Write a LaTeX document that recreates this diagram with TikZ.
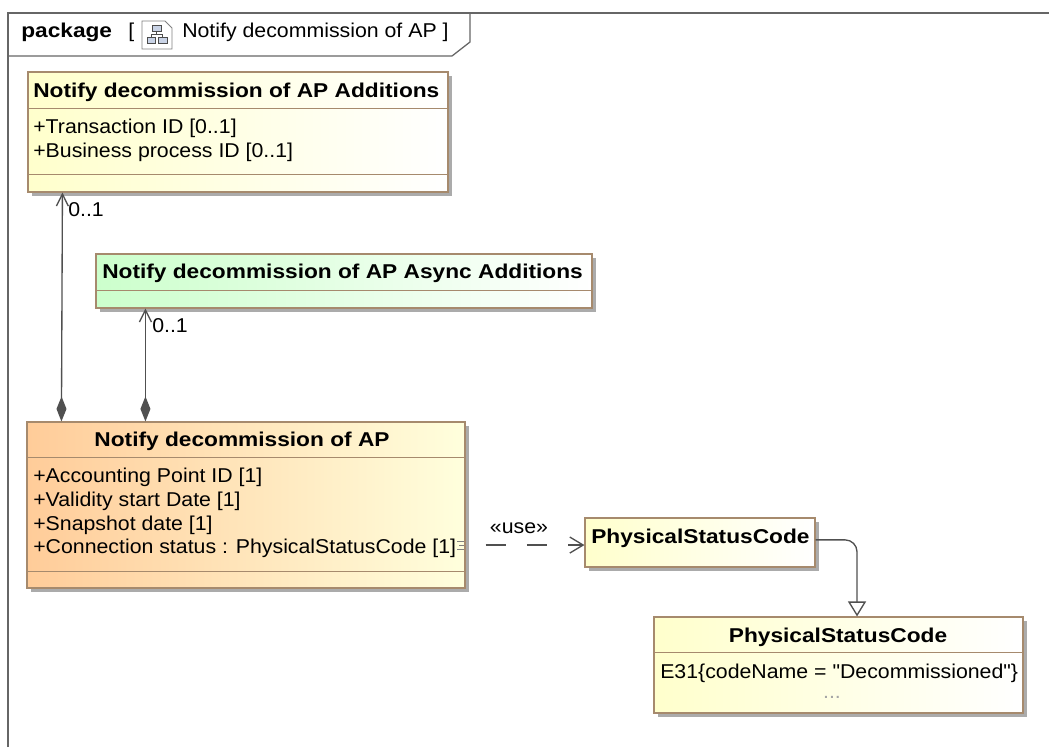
\documentclass[tikz,border=0pt]{standalone}
\usepackage{fontspec}
\setmainfont{Liberation Sans}
\newfontface\regface[FakeStretch=1.065]{Liberation Sans}
\newfontface\boldface[FakeStretch=1.135]{Liberation Sans Bold}
\usetikzlibrary{arrows.meta,shadows}
\definecolor{edgec}{HTML}{A68A6D}
\definecolor{linec}{HTML}{505050}
\definecolor{framec}{HTML}{666666}
\definecolor{ylw}{HTML}{FFFFCC}
\definecolor{grn}{HTML}{CCFFCC}
\definecolor{org}{HTML}{FFCC99}
\definecolor{pale}{HTML}{FFFFDD}
\definecolor{iconc}{HTML}{C9D3E6}
\tikzset{
  x=0.75pt,y=-0.75pt,
  umlbox/.style={draw=edgec,line width=0.85pt,inner sep=0pt,shading angle=0,
    drop shadow={shadow xshift=3pt,shadow yshift=-3pt,opacity=0.55,fill=black!60}},
  divider/.style={draw=edgec,line width=0.75pt},
  title/.style={font=\boldface\fontsize{15}{17}\selectfont,inner sep=0pt,anchor=base},
  attr/.style={font=\regface\fontsize{15}{17}\selectfont,inner sep=0pt,anchor=base west},
  conn/.style={draw=linec,line width=1pt},
  frameline/.style={draw=framec,line width=0.95pt},
}
\begin{document}
\begin{tikzpicture}
\useasboundingbox (0,0) rectangle (1049,747);
% frame
\draw[frameline] (8,747) -- (8,13) -- (1049,13);
\draw[frameline] (8,56) -- (452,56) -- (470,42) -- (470,13);
\node[title,anchor=base west] (pk) at (21,37) {package};
\node[attr] (pkb1) at (128,37) {[};
\node[attr] (pkn) at (182,37) {Notify decommission of AP ]};
% icon
\draw[draw=gray,fill=white,line width=0.7pt] (142,21) -- (165,21) -- (172,28) -- (172,49) -- (142,49) -- cycle;
\draw[draw=black!70,fill=iconc,line width=0.6pt] (152,25) rectangle (161,31) (147,37) rectangle (155,43) (158,37) rectangle (167,43);
\draw[draw=black!70,line width=0.6pt] (156.5,31) -- (156.5,34) (151,37) -- (151,34) -- (162,34) -- (162,37);
% Additions
\node[umlbox,left color=ylw,right color=white,minimum width=315pt,minimum height=90pt] (add) at (238,132) {};
\draw[divider] (add.west |- 0,108) -- (add.east |- 0,108);
\draw[divider] (add.west |- 0,174) -- (add.east |- 0,174);
\node[title,anchor=base west] (addt) at (33,97) {Notify decommission of AP Additions};
\node[attr] (adda) at (33,133) {+Transaction ID [0..1]};
\node[attr] (addb) at (33,157) {+Business process ID [0..1]};
% Async
\node[umlbox,left color=grn,right color=white,minimum width=372pt,minimum height=40.5pt] (asy) at (344,281) {};
\draw[divider] (asy.west |- 0,290) -- (asy.east |- 0,290);
\node[title,anchor=base west] (asyt) at (102,278) {Notify decommission of AP Async Additions};
% Main
\node[umlbox,left color=org,right color=pale,minimum width=328.5pt,minimum height=124.5pt] (main) at (246,505) {};
\draw[divider] (main.west |- 0,457) -- (main.east |- 0,457);
\draw[divider] (main.west |- 0,571) -- (main.east |- 0,571);
\node[title] (maint) at (242,446) {Notify decommission of AP};
\node[attr] (m1) at (33,482) {+Accounting Point ID [1]};
\node[attr] (m2) at (33,506) {+Validity start Date [1]};
\node[attr] (m3) at (33,530) {+Snapshot date [1]};
\node[attr] (m4) at (33,553) {+Connection status : PhysicalStatusCode [1]};
\draw[draw=gray,line width=0.6pt] (457,541) -- (464,541) (459,545) -- (464,545) (457,549) -- (464,549);
% small status code
\node[umlbox,left color=ylw,right color=white,minimum width=172.5pt,minimum height=36.75pt] (psc) at (700,542.5) {};
\node[title,anchor=base west] (psct) at (591,543) {PhysicalStatusCode};
% enum
\node[umlbox,left color=ylw,right color=white,minimum width=276.75pt,minimum height=72pt] (enum) at (838.5,665) {};
\draw[divider] (enum.west |- 0,652) -- (enum.east |- 0,652);
\node[title] (enumt) at (838,642) {PhysicalStatusCode};
\node[attr] (e1) at (660,678) {E31\{codeName = "Decommissioned"\}};
\node[attr,anchor=base,text=black!35] (e2) at (832,698) {...};
% connectors
\draw[conn,{Diamond[length=18.75pt,width=7.5pt]}-{Straight Barb[length=9pt,width=9pt]}]
  ([xshift=26.25pt]main.north west) -- ([xshift=26.25pt]add.south west);
\draw[conn,{Diamond[length=18.75pt,width=7.5pt]}-{Straight Barb[length=9pt,width=9pt]}]
  ([xshift=89.25pt]main.north west) -- ([xshift=37.5pt]asy.south west);
\node[attr] (l1) at (68,216) {0..1};
\node[attr] (l2) at (152,332) {0..1};
\coordinate (ds) at ([xshift=15pt,yshift=-1.9pt]main.east |- psc.west);
\draw[conn,dash pattern=on 15pt off 16pt,-{Straight Barb[length=10pt,width=12pt]}]
  (ds) -- ([yshift=-1.9pt]psc.west);
\node[attr,anchor=base] (use) at (519,533) {«use»};
\draw[conn,rounded corners=9pt,-{Triangle[open,fill=white,length=11.25pt,width=13.5pt]}]
  ([yshift=2pt]psc.east) -| ([xshift=13.9pt]enum.north);
\end{tikzpicture}
\end{document}
